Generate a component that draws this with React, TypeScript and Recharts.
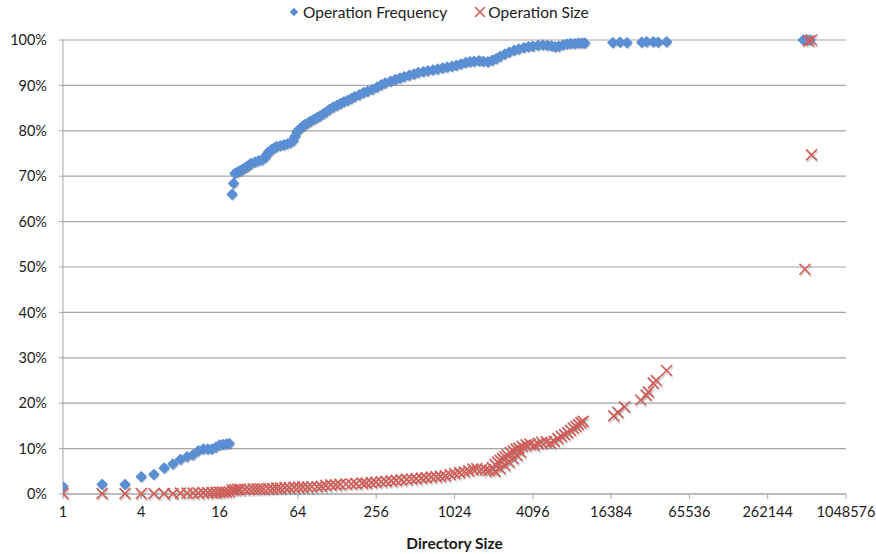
import React from 'react';
import { CartesianGrid, Scatter, ScatterChart, XAxis, YAxis } from 'recharts';

// cumulative share of operations by directory size
const freqSizes = [
  1, 2, 3, 4, 5, 6, 7, 8, 9, 10, 11, 12, 13, 14, 15, 16, 17, 18, 19,
  20, 20.5, 21, 22, 23, 24, 25, 26, 27, 28, 30, 32, 34, 36, 37, 38, 40, 42, 44, 47,
  50, 53, 56, 59, 61, 63, 66, 69, 72, 76, 80, 85, 90, 95, 100, 106, 112, 120, 128,
  136, 145, 155, 165, 175, 190, 205, 220, 240, 260, 280, 300, 330, 360, 390, 420,
  460, 500, 540, 590, 640, 700, 760, 830, 900, 980, 1060, 1150, 1250, 1350, 1450,
  1580, 1700, 1850, 2000, 2150, 2300, 2500, 2700, 2950, 3200, 3500, 3800, 4100,
  4500, 4900, 5300, 5700, 6100, 6500, 7000, 7500, 8000, 8600, 9200, 9800, 10300,
  16900, 19200, 21700, 28200, 30800, 34600, 37700, 43800,
  493000, 520000, 555000,
];
const freqShares = [
  1.6, 2.1, 2.1, 3.8, 4.3, 5.7, 6.6, 7.6, 8.2, 8.6, 9.5, 9.9, 9.9, 9.9, 10.3, 10.8, 10.9, 11.0, 11.1,
  66.0, 68.4, 70.6, 70.9, 71.2, 71.5, 71.8, 72.1, 72.5, 72.8, 73.1, 73.4, 73.6, 74.2, 74.8, 75.3, 75.8, 76.2, 76.5, 76.7,
  76.9, 77.1, 77.4, 77.8, 78.8, 79.8, 80.4, 80.9, 81.3, 81.7, 82.1, 82.5, 82.9, 83.3, 83.7, 84.2, 84.7, 85.2, 85.6,
  86.0, 86.4, 86.7, 87.1, 87.5, 87.9, 88.4, 88.7, 89.1, 89.6, 90.1, 90.5, 90.9, 91.3, 91.6, 91.9,
  92.2, 92.5, 92.8, 93.0, 93.2, 93.4, 93.6, 93.8, 94.0, 94.2, 94.4, 94.7, 95.0, 95.2, 95.3,
  95.4, 95.3, 95.2, 95.5, 95.9, 96.4, 96.9, 97.3, 97.7, 98.0, 98.3, 98.5, 98.6,
  98.8, 98.9, 98.8, 98.7, 98.5, 98.6, 98.9, 99.1, 99.2, 99.2, 99.3, 99.3, 99.3,
  99.4, 99.5, 99.4, 99.5, 99.6, 99.6, 99.5, 99.6,
  100, 100, 100,
];

// cumulative share of bytes by directory size
const sizeSizes = [
  1, 2, 3, 4, 5, 6, 7, 8, 9, 10, 11, 12, 13, 14, 15, 16, 17, 18, 19,
  20, 21, 22, 23, 25, 27, 29, 31, 33, 35, 38, 41, 44, 47, 51, 55, 60, 65, 70, 76, 82, 90, 97,
  105, 115, 125, 135, 150, 165, 180, 200, 215, 235, 255, 280, 305, 335, 365, 400, 440,
  480, 520, 570, 620, 680, 740, 800, 870, 950, 1030, 1120, 1220, 1320, 1420, 1520,
  1650, 1780, 1900, 2000, 2100, 2200, 2300, 2400, 2500, 2600, 2750, 2900, 3050, 3200,
  3400, 3650, 3900, 4200, 4500, 4800, 5200, 5600, 6000, 6400, 6800, 7200, 7600, 8000,
  8400, 8800, 9200, 9600, 10000,
  2100, 2300, 2500, 2700, 2900, 3100, 3300,
  17200, 18500, 20800, 27700, 30500, 31700, 34600, 36500, 43800,
  507000, 540000, 570000, 570000,
];
const sizeShares = [
  0.1, 0.1, 0.1, 0.1, 0.1, 0.1, 0.1, 0.2, 0.2, 0.2, 0.2, 0.3, 0.3, 0.3, 0.3, 0.4, 0.4, 0.4, 0.5,
  0.9, 0.9, 1.0, 1.0, 1.0, 1.0, 1.1, 1.1, 1.1, 1.1, 1.2, 1.2, 1.3, 1.3, 1.4, 1.4, 1.5, 1.5, 1.5, 1.5, 1.6, 1.6, 1.7,
  1.9, 2.0, 2.0, 2.1, 2.2, 2.2, 2.3, 2.4, 2.4, 2.5, 2.6, 2.7, 2.8, 2.9, 3.0, 3.1, 3.2,
  3.3, 3.4, 3.5, 3.6, 3.7, 3.8, 3.9, 4.0, 4.3, 4.5, 4.7, 4.9, 5.1, 5.5, 5.6,
  5.4, 5.3, 5.2, 5.8, 6.5, 7.0, 7.4, 7.8, 8.2, 8.6, 9.1, 9.5, 9.9, 10.1,
  10.5, 10.8, 11.0, 10.7, 11.1, 11.4, 11.5, 11.2, 11.6, 12.2, 12.7, 13.1, 13.5, 14.0,
  14.5, 14.9, 15.3, 15.7, 16.0,
  5.0, 5.6, 6.3, 7.0, 7.8, 8.5, 9.2,
  17.2, 18.0, 19.2, 20.7, 21.8, 22.5, 24.4, 25.0, 27.2,
  49.5, 99.8, 74.7, 100,
];

const xTicks = [1, 4, 16, 64, 256, 1024, 4096, 16384, 65536, 262144, 1048576];
const yTicks = [0, 10, 20, 30, 40, 50, 60, 70, 80, 90, 100];

const BLUE = '#5b8fd4';
const RED = '#cf5e59';
const GRID = '#a6a6a6';
const FONT = 'Lato, "Open Sans", sans-serif';

const freqData = freqSizes.map((x, i) => ({ x, y: freqShares[i] }));
const sizeData = sizeSizes.map((x, i) => ({ x, y: sizeShares[i] }));

const diamondPath = (cx: number, cy: number, r: number) =>
  `M${cx},${cy - r}L${cx + r},${cy}L${cx},${cy + r}L${cx - r},${cy}Z`;

const crossPath = (cx: number, cy: number, r: number) =>
  `M${cx - r},${cy - r}L${cx + r},${cy + r}M${cx - r},${cy + r}L${cx + r},${cy - r}`;

const Diamond = (props: any) => {
  const { cx, cy } = props;
  return <path d={diamondPath(cx, cy, 4.7)} fill={BLUE} stroke={BLUE} strokeWidth={1.8} strokeLinejoin="round" />;
};

const DiamondShadow = (props: any) => {
  const { cx, cy } = props;
  return <path d={diamondPath(cx + 1, cy + 2, 4.8)} fill="#222" opacity={0.22} />;
};

const Cross = (props: any) => {
  const { cx, cy } = props;
  return <path d={crossPath(cx, cy, 5.5)} stroke={RED} strokeWidth={1.7} fill="none" />;
};

const CrossShadow = (props: any) => {
  const { cx, cy } = props;
  return <path d={crossPath(cx + 1, cy + 2, 5.5)} stroke="#222" strokeWidth={1.7} opacity={0.16} fill="none" />;
};

const tickStyle = { fill: '#1a1a1a', fontSize: 14.5, fontFamily: FONT };

export default function App() {
  return (
    <div style={{ position: 'absolute', left: 0, top: 0, width: 876, height: 554, background: '#fff' }}>
      <div
        style={{
          position: 'absolute',
          top: 3,
          left: 288,
          display: 'flex',
          alignItems: 'center',
          fontFamily: FONT,
          fontSize: 15.5,
          color: '#1a1a1a',
          whiteSpace: 'nowrap',
        }}
      >
        <svg width={12} height={12} style={{ marginRight: 3 }}>
          <path d={diamondPath(6, 6, 4.2)} fill={BLUE} />
        </svg>
        <span>Operation Frequency</span>
        <svg width={14} height={14} style={{ marginLeft: 26, marginRight: 1 }}>
          <path d="M2,2L12,12M2,12L12,2" stroke={RED} strokeWidth={1.6} />
        </svg>
        <span>Operation Size</span>
      </div>
      <ScatterChart width={876} height={554} margin={{ top: 40, right: 30, left: 0, bottom: 0 }}>
        <CartesianGrid vertical={false} stroke={GRID} strokeWidth={1.2} />
        <XAxis
          dataKey="x"
          type="number"
          scale="log"
          domain={[1, 1048576]}
          ticks={xTicks}
          interval={0}
          allowDataOverflow
          height={60}
          stroke={GRID}
          tickSize={5}
          tickMargin={8}
          tick={tickStyle}
          label={{
            value: 'Directory Size',
            position: 'insideBottom',
            offset: 5,
            style: { fill: '#1a1a1a', fontSize: 15.5, fontWeight: 700, fontFamily: FONT },
          }}
        />
        <YAxis
          dataKey="y"
          type="number"
          domain={[0, 100]}
          ticks={yTicks}
          interval={0}
          width={63}
          stroke={GRID}
          tickSize={4}
          tickMargin={12}
          tick={tickStyle}
          tickFormatter={(v: number) => `${v}%`}
        />
        <Scatter data={freqData} shape={<DiamondShadow />} legendType="none" isAnimationActive={false} />
        <Scatter data={sizeData} shape={<CrossShadow />} legendType="none" isAnimationActive={false} />
        <Scatter name="Operation Frequency" data={freqData} shape={<Diamond />} isAnimationActive={false} />
        <Scatter name="Operation Size" data={sizeData} shape={<Cross />} isAnimationActive={false} />
      </ScatterChart>
    </div>
  );
}
